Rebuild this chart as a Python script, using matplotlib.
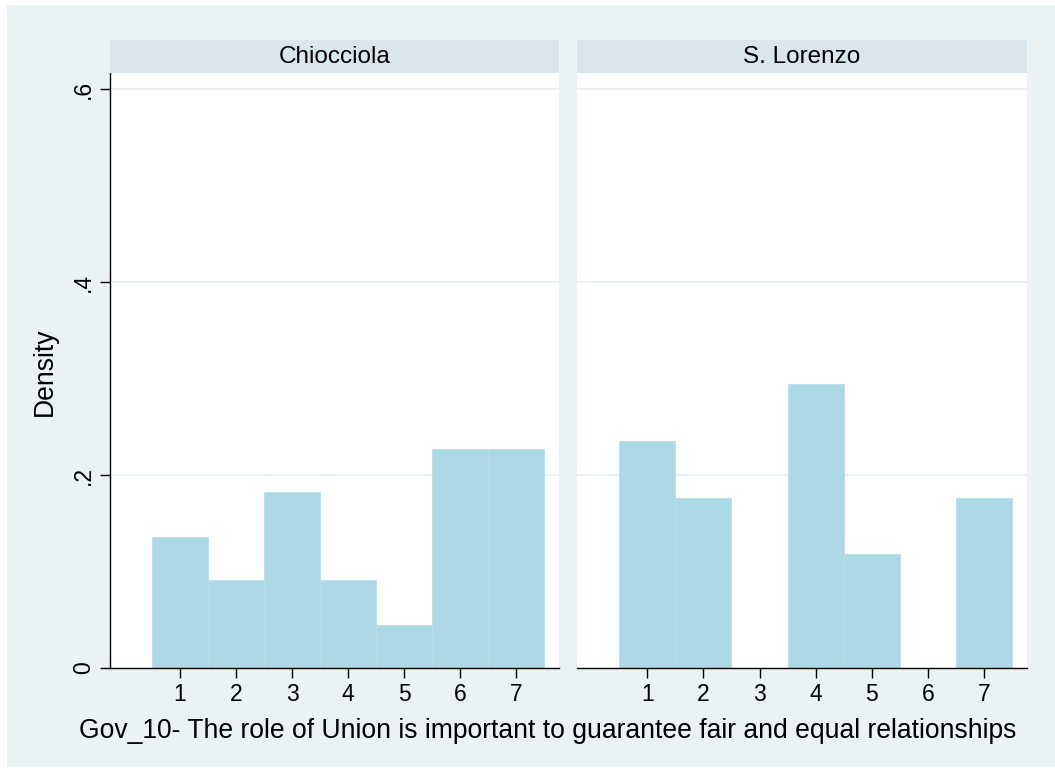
import matplotlib
matplotlib.use("Agg")
import matplotlib.pyplot as plt
from matplotlib.patches import Rectangle

plt.rcParams['font.family'] = ['Liberation Sans', 'DejaVu Sans']

# Response categories (1-7 agreement scale)
categories = [1, 2, 3, 4, 5, 6, 7]

# Density per category for each contrada
chiocciola_density = [0.136, 0.091, 0.182, 0.091, 0.045, 0.227, 0.227]
lorenzo_density = [0.235, 0.176, 0.0, 0.294, 0.118, 0.0, 0.176]

panel_titles = ["Chiocciola", "S. Lorenzo"]
y_ticks = [0, 0.2, 0.4, 0.6]
y_tick_labels = ["0", ".2", ".4", ".6"]
x_label = "Gov_10- The role of Union is important to guarantee fair and equal relationships"
y_label = "Density"

W, H = 1055, 769
fig = plt.figure(figsize=(W / 100, H / 100), dpi=100, facecolor="white")

BG = "#eaf2f3"
STRIP = "#d9e6eb"
BAR = "#add8e6"


def fx(px):
    return px / W


def fy(py):
    return 1 - py / H


# outer graph region
fig.patches.append(Rectangle((fx(7), fy(767)), 1 - fx(7), (767 - 5) / H,
                             transform=fig.transFigure, facecolor=BG,
                             edgecolor="none", zorder=-10))

panel_x = [(110, 559), (577, 1027)]
plot_top, plot_bot = 73, 668
strip_top = 40

series = [chiocciola_density, lorenzo_density]

for i, ((x0, x1), dens, title) in enumerate(zip(panel_x, series, panel_titles)):
    ax = fig.add_axes([fx(x0), fy(plot_bot), fx(x1 - x0), (plot_bot - plot_top) / H])
    ax.set_facecolor("white")
    ax.bar(categories, dens, width=1.0, color=BAR, edgecolor="#b9dfea",
           linewidth=0.6, zorder=2)
    ax.set_xlim(-0.25, 7.76)
    ax.set_ylim(0, 0.6166)
    for yv in y_ticks[1:]:
        ax.axhline(yv, color=BG, linewidth=1.3, zorder=1)
    ax.set_xticks(categories)
    ax.set_xticklabels([str(c) for c in categories])
    ax.tick_params(axis="x", length=7, width=1.0, colors="black",
                   labelsize=16.5, pad=3.5)
    for s in ["top", "right"]:
        ax.spines[s].set_visible(False)
    ax.spines["bottom"].set_linewidth(1.0)
    if i == 0:
        ax.spines["left"].set_linewidth(1.0)
        ax.set_yticks(y_ticks)
        ax.set_yticklabels(y_tick_labels, rotation=90, va="center")
        ax.tick_params(axis="y", length=7, width=1.0, colors="black",
                       labelsize=16.5, pad=4)
    else:
        ax.spines["left"].set_visible(False)
        ax.set_yticks([])

    # panel strip
    sax = fig.add_axes([fx(x0), fy(plot_top), fx(x1 - x0), (plot_top - strip_top) / H])
    sax.set_facecolor(STRIP)
    sax.set_xticks([])
    sax.set_yticks([])
    for s in sax.spines.values():
        s.set_visible(False)
    sax.text(0.5, 0.47, title, ha="center", va="center", fontsize=17.5,
             transform=sax.transAxes)

fig.text(fx(547.5), fy(731), x_label, ha="center", va="center", fontsize=19.1)
fig.text(fx(45), fy(372), y_label, ha="center", va="center", rotation=90,
         fontsize=19.1)

fig.savefig("out.png", dpi=100, facecolor="white")
